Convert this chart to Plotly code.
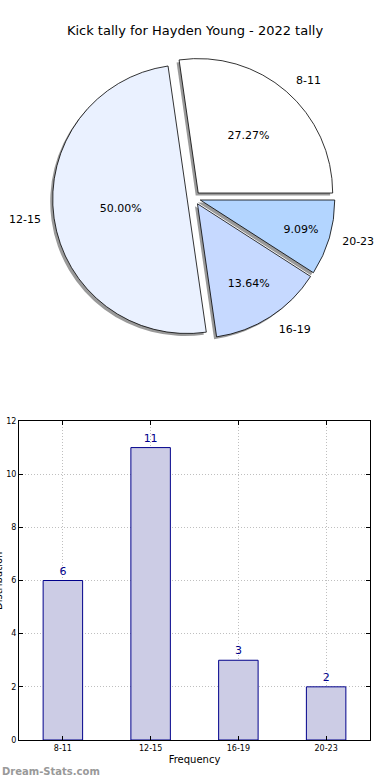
import plotly.graph_objects as go

categories = ["8-11", "12-15", "16-19", "20-23"]
kicks = [6, 11, 3, 2]
pie_colors = ["#FFFFFF", "#EAF1FF", "#C6D9FF", "#B3D5FF"]
y_ticks = [0, 2, 4, 6, 8, 10, 12]

FONT = "DejaVu Sans"
W, H = 390, 780

# first slice starts at 3 o'clock and runs counterclockwise (plotly places the
# first slice clockwise from `rotation`, so offset by its own angle)
rotation = 90 - 360 * kicks[0] / sum(kicks)

# pie placement (paper fractions)
px0, px1 = 0.134, 0.860
py0, py1 = 0.565, 0.927
pull = [0.05, 0.05, 0.05, 0.05]
sdx, sdy = -2.5 / W, -2.5 / H
lx, ly = 10 / W, 10 / H  # label ring slightly further out

fig = go.Figure()

common = dict(labels=categories, values=kicks, sort=False,
              direction="counterclockwise", rotation=rotation, pull=pull,
              automargin=False)

# shadow pie
fig.add_trace(go.Pie(
    **common,
    marker=dict(colors=["rgba(120,120,120,0.75)"] * 4, line=dict(width=0)),
    textinfo="none", hoverinfo="skip", showlegend=False,
    domain=dict(x=[px0 + sdx, px1 + sdx], y=[py0 + sdy, py1 + sdy]),
))

# main pie with percentages
fig.add_trace(go.Pie(
    **common,
    marker=dict(colors=pie_colors, line=dict(color="black", width=0.8)),
    texttemplate="%{percent:.2%}", textposition="inside",
    insidetextorientation="horizontal",
    textfont=dict(family=FONT, size=11, color="black"),
    showlegend=False,
    domain=dict(x=[px0, px1], y=[py0, py1]),
))

# outside labels
fig.add_trace(go.Pie(
    **common,
    marker=dict(colors=["rgba(0,0,0,0)"] * 4, line=dict(width=0)),
    textinfo="label", textposition="outside",
    textfont=dict(family=FONT, size=11, color="black"),
    hoverinfo="skip", showlegend=False,
    domain=dict(x=[px0 - lx, px1 + lx], y=[py0 - ly, py1 + ly]),
))

# bar chart
fig.add_trace(go.Bar(
    x=categories, y=kicks, width=0.45,
    marker=dict(color="#CCCCE5", line=dict(color="#00008B", width=1)),
    text=[str(v) for v in kicks], textposition="outside",
    textfont=dict(family=FONT, size=11, color="#00008B"),
    cliponaxis=False, showlegend=False,
    xaxis="x", yaxis="y",
))

grid = dict(showgrid=True, gridcolor="#BFBFBF", griddash="1px,2px", gridwidth=1)

fig.update_layout(
    width=W, height=H, autosize=False,
    margin=dict(l=0, r=0, t=0, b=0, pad=0),
    paper_bgcolor="white", plot_bgcolor="white",
    font=dict(family=FONT, color="black"),
    title=dict(text="Kick tally for Hayden Young - 2022 tally",
               x=0.5, xanchor="center", y=1 - 30 / H, yanchor="middle",
               font=dict(family=FONT, size=13, color="black")),
    xaxis=dict(domain=[19 / W, 370 / W], anchor="y", automargin=False,
               showline=True, linecolor="black", linewidth=1, mirror="allticks",
               **grid,
               ticks="inside", ticklen=4, tickcolor="black",
               tickfont=dict(family=FONT, size=8, color="black"),
               title=dict(text="Frequency", font=dict(family=FONT, size=10, color="black"),
                          standoff=4)),
    yaxis=dict(domain=[1 - 740 / H, 1 - 421 / H], anchor="x", automargin=False,
               range=[0, 12], tickvals=y_ticks,
               showline=True, linecolor="black", linewidth=1, mirror="allticks",
               **grid,
               zeroline=False,
               ticks="inside", ticklen=4, tickcolor="black",
               tickfont=dict(family=FONT, size=8, color="black")),
    annotations=[
        dict(text="Distribution", xref="paper", yref="paper",
             x=-2 / W, y=1 - 581 / H, xanchor="center", yanchor="middle",
             textangle=-90, showarrow=False,
             font=dict(family=FONT, size=10, color="black")),
        dict(text="<b>Dream-Stats.com</b>", xref="paper", yref="paper",
             x=0, y=1 - 771 / H, xanchor="left", yanchor="middle",
             showarrow=False,
             font=dict(family=FONT, size=10, color="#999999")),
    ],
)

fig.write_html("out.html",
               config={"responsive": False, "displayModeBar": False},
               post_script="document.body.style.margin='0px';")
